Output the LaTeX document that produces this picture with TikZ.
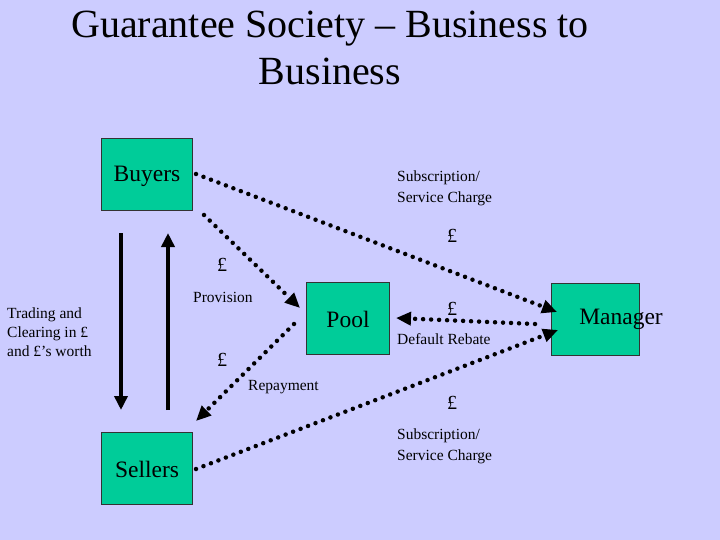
\documentclass[tikz,border=0pt]{standalone}
\usetikzlibrary{arrows.meta}
\usepackage{fontspec}
\setmainfont{Liberation Serif}
\definecolor{bg}{HTML}{CCCCFF}
\definecolor{boxg}{HTML}{00CC99}
\begin{document}
\begin{tikzpicture}[x=1pt,y=-1pt,
  box/.style={draw=black!80,fill=boxg,line width=0.8pt,minimum width=#1,minimum height=72pt,inner sep=0pt},
  bt/.style={font=\fontsize{23.5}{26}\selectfont,inner sep=0pt},
  dots/.style={line width=4.5pt,dash pattern=on 0pt off 8pt,line cap=round,-{Triangle[length=15pt,width=13pt,line cap=butt]}},
  lbl/.style={font=\fontsize{15.5}{21}\selectfont,align=left,inner sep=0pt},
  pnd/.style={font=\fontsize{20}{22}\selectfont,inner sep=0pt}]
\fill[bg] (0,0) rectangle (720,540);
\useasboundingbox (0,0) rectangle (720,540);
\node[font=\fontsize{40}{47}\selectfont,align=center] (title) at (330,48) {Guarantee Society -- Business to\\Business};
\node[box=91pt,anchor=north west] (buy) at (101,138) {};
\node[bt] (buyt) at (147,176) {Buyers};
\node[box=91pt,anchor=north west] (sel) at (101,432) {};
\node[bt] (selt) at (147,469) {Sellers};
\node[box=83pt,anchor=north west] (pool) at (306,282) {};
\node[bt] (poolt) at (348,319) {Pool};
\node[box=88pt,anchor=north west] (man) at (551,283) {};
\node[bt] (mant) at (621,319) {Manager};
% labels
\node[lbl,anchor=west] (l1) at (397,188) {Subscription/\\Service Charge};
\node[pnd] (p1) at (452,236) {£};
\node[pnd] (p2) at (222,265) {£};
\node[lbl,anchor=west] (l2) at (193,297) {Provision};
\node[pnd] (p3) at (452,309) {£};
\node[lbl,anchor=west] (l3) at (397,339) {Default Rebate};
\node[pnd] (p4) at (222,360) {£};
\node[lbl,anchor=west] (l4) at (248,387) {Repayment};
\node[pnd] (p5) at (452,403) {£};
\node[lbl,anchor=west] (l5) at (397,446) {Subscription/\\Service Charge};
\node[lbl,anchor=west,font=\fontsize{15.5}{19}\selectfont] (l6) at (7,332) {Trading and\\Clearing in £\\and £'s worth};
% connector ends
\coordinate (a1s) at (196,174); \coordinate (a1e) at (557,312);
\coordinate (a2s) at (204,215); \coordinate (a2e) at (300,308);
\coordinate (a3s) at (535,324); \coordinate (a3e) at (396,318);
\coordinate (a4s) at (294,324); \coordinate (a4e) at (196,421);
\coordinate (a5s) at (196,469); \coordinate (a5e) at (558,330);
\draw[dots] (a1s) -- (a1e);
\draw[dots] (a2s) -- (a2e);
\draw[dots] (a3s) -- (a3e);
\draw[dots] (a4s) -- (a4e);
\draw[dots] (a5s) -- (a5e);
\coordinate (d1) at (121,233); \coordinate (d2) at (121,410);
\coordinate (u1) at (168,410); \coordinate (u2) at (168,233);
\draw[line width=4pt,-{Triangle[length=14pt,width=13pt]}] (d1) -- (d2);
\draw[line width=4pt,-{Triangle[length=14pt,width=13pt]}] (u1) -- (u2);
\end{tikzpicture}
\end{document}
